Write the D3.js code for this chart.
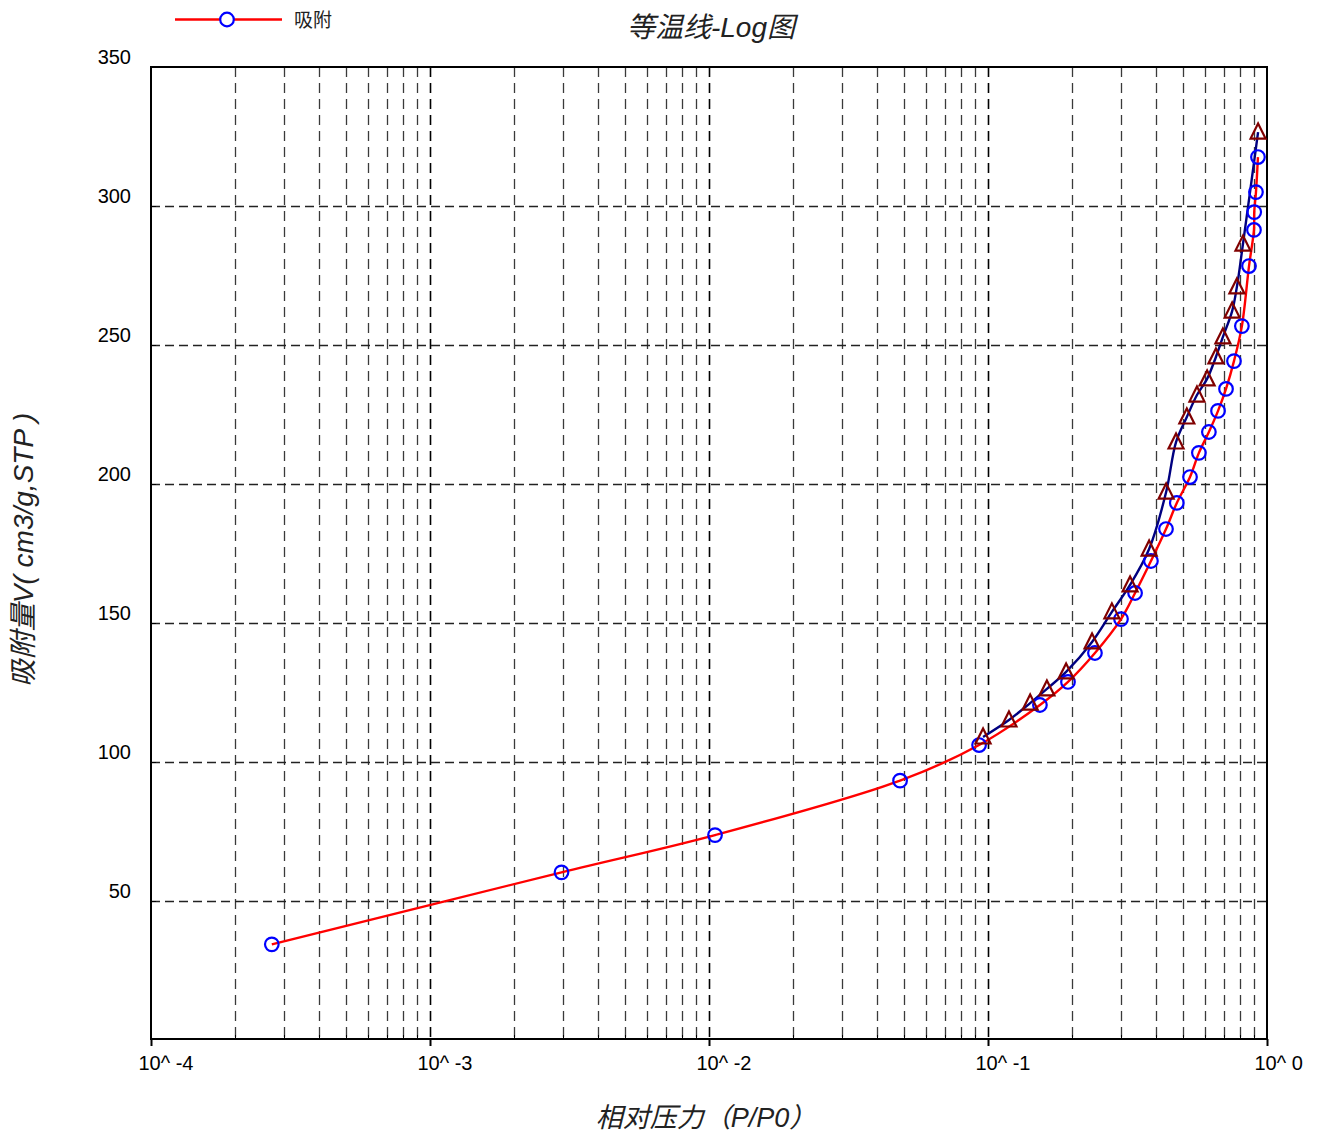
<!DOCTYPE html>
<html>
<head>
<meta charset="utf-8">
<script src="https://cdn.jsdelivr.net/npm/d3@7"></script>
<style>
  body { margin: 0; background: #fff; }
  svg { display: block; font-family: "Liberation Sans", Arial, "Noto Sans CJK SC", sans-serif; }
</style>
</head>
<body>
<svg id="chart" width="1323" height="1135"></svg>
<script>
// adsorption branch (blue circles, red line)
var adsP = [0.000271, 0.00296, 0.01051, 0.0484, 0.0929, 0.1535, 0.1935, 0.2417, 0.2997, 0.3366,
            0.3837, 0.4345, 0.475, 0.5297, 0.570, 0.619, 0.6675, 0.713, 0.7614, 0.8128,
            0.862, 0.898, 0.900, 0.913, 0.928];
var adsV = [34.4, 60.3, 73.7, 93.3, 106.1, 120.5, 128.8, 139.2, 151.4, 160.8,
            172.3, 183.8, 193.2, 202.5, 211.2, 218.7, 226.3, 234.2, 244.2, 256.8,
            278.4, 291.4, 297.8, 305.0, 317.6];
// desorption branch (dark red triangles, navy line)
var desP = [0.929, 0.820, 0.780, 0.750, 0.695, 0.656, 0.610, 0.561, 0.516, 0.472,
            0.435, 0.378, 0.323, 0.278, 0.236, 0.1905, 0.1626, 0.1416, 0.1189, 0.0960];
var desV = [326.6, 286.3, 270.9, 262.2, 252.9, 245.7, 237.8, 232.0, 224.1, 215.1,
            197.1, 176.6, 163.7, 154.0, 143.2, 132.4, 126.3, 121.2, 115.1, 109.0];

var xMajor = [1e-4, 1e-3, 1e-2, 1e-1, 1];
var xTickLabels = ["10^ -4", "10^ -3", "10^ -2", "10^ -1", "10^ 0"];
var yTicks = [50, 100, 150, 200, 250, 300, 350];

var svg = d3.select("#chart");
var pLeft = 151, pRight = 1267, pTop = 67, pBottom = 1040;

var x = d3.scaleLog().domain([1e-4, 1]).range([pLeft, pRight]);
var y = d3.scaleLinear().domain([0, 350]).range([pBottom, pTop]);

// minor positions 2..9 per decade
var xMinor = [];
xMajor.slice(0, 4).forEach(function (d) {
  for (var k = 2; k <= 9; k++) xMinor.push(d * k);
});

var grid = svg.append("g");
grid.selectAll(".vminor")
  .data(xMinor)
  .enter().append("line")
  .attr("x1", function (d) { return Math.round(x(d)) + 0.5; })
  .attr("x2", function (d) { return Math.round(x(d)) + 0.5; })
  .attr("y1", pTop).attr("y2", pBottom)
  .attr("stroke", "#3a3a3a").attr("stroke-width", 1.3)
  .attr("stroke-dasharray", "10,6");
grid.selectAll(".vmajor")
  .data(xMajor.slice(1, 4))
  .enter().append("line")
  .attr("x1", function (d) { return Math.round(x(d)) + 0.5; })
  .attr("x2", function (d) { return Math.round(x(d)) + 0.5; })
  .attr("y1", pTop).attr("y2", pBottom)
  .attr("stroke", "#000").attr("stroke-width", 1.6)
  .attr("stroke-dasharray", "10,6");
grid.selectAll(".hgrid")
  .data(yTicks.slice(0, 6))
  .enter().append("line")
  .attr("x1", pLeft).attr("x2", pRight)
  .attr("y1", function (d) { return Math.round(y(d)) + 0.5; })
  .attr("y2", function (d) { return Math.round(y(d)) + 0.5; })
  .attr("stroke", "#222").attr("stroke-width", 1.3)
  .attr("stroke-dasharray", "9,5");

// minor inward ticks on the bottom axis
svg.append("g").selectAll("line")
  .data(xMinor)
  .enter().append("line")
  .attr("x1", function (d) { return Math.round(x(d)) + 0.5; })
  .attr("x2", function (d) { return Math.round(x(d)) + 0.5; })
  .attr("y1", pBottom - 5).attr("y2", pBottom)
  .attr("stroke", "#000").attr("stroke-width", 1);

// axes
var xAxis = d3.axisBottom(x)
  .tickValues(xMajor)
  .tickSize(7)
  .tickFormat(function (d, i) { return xTickLabels[i]; });
var gx = svg.append("g")
  .attr("transform", "translate(0," + (pBottom - 1) + ")")
  .call(xAxis);
gx.select(".domain").remove();
gx.selectAll(".tick line").attr("stroke-width", 2);
gx.selectAll(".tick text")
  .attr("font-size", 20)
  .attr("fill", "#000")
  .attr("font-family", "'Liberation Sans', Arial, sans-serif")
  .attr("text-anchor", "start")
  .attr("x", -13)
  .attr("y", 31)
  .attr("dy", 0);

var yAxis = d3.axisLeft(y)
  .tickValues(yTicks)
  .tickSize(0)
  .tickPadding(20);
var gy = svg.append("g")
  .attr("transform", "translate(" + pLeft + ",0)")
  .call(yAxis);
gy.select(".domain").remove();
gy.selectAll(".tick text")
  .attr("font-size", 20)
  .attr("fill", "#000")
  .attr("font-family", "'Liberation Sans', Arial, sans-serif")
  .attr("dy", -4);
// small inward ticks on the left axis
svg.append("g").selectAll("line")
  .data(yTicks)
  .enter().append("line")
  .attr("x1", pLeft).attr("x2", pLeft + 5)
  .attr("y1", function (d) { return Math.round(y(d)) + 0.5; })
  .attr("y2", function (d) { return Math.round(y(d)) + 0.5; })
  .attr("stroke", "#000").attr("stroke-width", 1);

// frame
svg.append("rect")
  .attr("x", pLeft).attr("y", pTop)
  .attr("width", pRight - pLeft).attr("height", pBottom - 1 - pTop)
  .attr("fill", "none").attr("stroke", "#000").attr("stroke-width", 2);

// series
var ads = adsP.map(function (p, i) { return { p: p, v: adsV[i] }; });
var des = desP.map(function (p, i) { return { p: p, v: desV[i] }; });

var line = d3.line()
  .x(function (d) { return x(d.p); })
  .y(function (d) { return y(d.v); })
  .curve(d3.curveCatmullRom.alpha(0.5));

svg.append("path")
  .datum(ads)
  .attr("d", line)
  .attr("fill", "none").attr("stroke", "#ff0000").attr("stroke-width", 2.4);
svg.append("path")
  .datum(des)
  .attr("d", line)
  .attr("fill", "none").attr("stroke", "#000080").attr("stroke-width", 2.4);

svg.append("g").selectAll("circle")
  .data(ads)
  .enter().append("circle")
  .attr("cx", function (d) { return x(d.p); })
  .attr("cy", function (d) { return y(d.v); })
  .attr("r", 6.8)
  .attr("fill", "none").attr("stroke", "#0000ff").attr("stroke-width", 2.2);

svg.append("g").selectAll("path")
  .data(des)
  .enter().append("path")
  .attr("transform", function (d) { return "translate(" + x(d.p) + "," + y(d.v) + ")"; })
  .attr("d", "M0,-8.5L7.5,6.5L-7.5,6.5Z")
  .attr("fill", "none").attr("stroke", "#800000").attr("stroke-width", 2.2);

// legend
var lg = svg.append("g");
lg.append("line")
  .attr("x1", 175).attr("x2", 282).attr("y1", 19.5).attr("y2", 19.5)
  .attr("stroke", "#ff0000").attr("stroke-width", 2.4);
lg.append("circle")
  .attr("cx", 227).attr("cy", 19.5).attr("r", 6.8)
  .attr("fill", "#fff").attr("stroke", "#0000ff").attr("stroke-width", 2.2);
lg.append("text")
  .attr("x", 294).attr("y", 27)
  .attr("font-size", 19)
  .attr("fill", "#222")
  .attr("font-family", "'Noto Sans CJK SC', sans-serif")
  .text("吸附");

// titles
svg.append("text")
  .attr("x", 711).attr("y", 37)
  .attr("text-anchor", "middle")
  .attr("font-size", 28)
  .attr("font-style", "italic")
  .attr("fill", "#222")
  .text("等温线-Log图");

svg.append("text")
  .attr("transform", "translate(33,550) rotate(-90)")
  .attr("text-anchor", "middle")
  .attr("font-size", 28)
  .attr("font-style", "italic")
  .attr("fill", "#222")
  .text("吸附量V( cm3/g,STP )");

svg.append("text")
  .attr("x", 706).attr("y", 1127)
  .attr("text-anchor", "middle")
  .attr("font-size", 27)
  .attr("font-style", "italic")
  .attr("fill", "#222")
  .text("相对压力（P/P0）");
</script>
</body>
</html>
